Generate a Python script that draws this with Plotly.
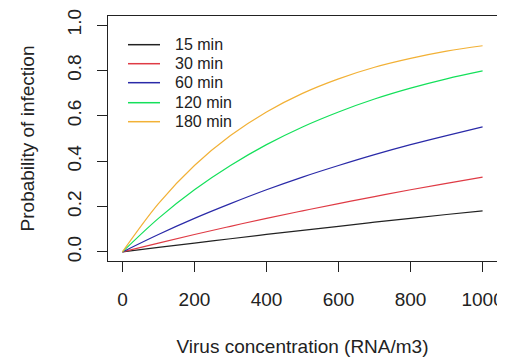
import plotly.graph_objects as go

concentration = [0, 100, 200, 300, 400, 500, 600, 700, 800, 900, 1000]
p15 = [0.0, 0.020, 0.039, 0.058, 0.077, 0.095, 0.113, 0.131, 0.148, 0.165, 0.181]
p30 = [0.0, 0.039, 0.077, 0.113, 0.148, 0.181, 0.213, 0.244, 0.274, 0.302, 0.330]
p60 = [0.0, 0.077, 0.148, 0.213, 0.274, 0.330, 0.381, 0.429, 0.473, 0.513, 0.551]
p120 = [0.0, 0.148, 0.274, 0.381, 0.473, 0.551, 0.617, 0.674, 0.722, 0.763, 0.798]
p180 = [0.0, 0.213, 0.381, 0.513, 0.617, 0.699, 0.763, 0.814, 0.853, 0.885, 0.909]

series_names = ["15 min", "30 min", "60 min", "120 min", "180 min"]
series_values = [p15, p30, p60, p120, p180]
colors = ["#222222", "#DF3B45", "#2A2AA8", "#14E05A", "#F2B136"]

x_ticks = [0, 200, 400, 600, 800, 1000]
y_ticks = [0.0, 0.2, 0.4, 0.6, 0.8, 1.0]
y_ticktext = ["0.0", "0.2", "0.4", "0.6", "0.8", "1.0"]

FONT = "Liberation Sans, Arial, sans-serif"
TXT = "#222222"

fig = go.Figure()
for name, vals, c in zip(series_names, series_values, colors):
    fig.add_trace(go.Scatter(x=concentration, y=vals, mode="lines", name=name,
                             line=dict(color=c, width=1.2, shape="spline"),
                             showlegend=False))

# manual legend (R style) in axis-domain coordinates
leg_x0, leg_x1, leg_tx = 20 / 389, 52 / 389, 65 / 389
leg_rows = [0.8829, 0.8053, 0.7278, 0.6461, 0.5686]
for name, c, yy in zip(series_names, colors, leg_rows):
    fig.add_shape(type="line", xref="x domain", yref="y domain",
                  x0=leg_x0, x1=leg_x1, y0=yy, y1=yy,
                  line=dict(color=c, width=1.5))
    fig.add_annotation(xref="x domain", yref="y domain", x=leg_tx, y=yy,
                       text=name, showarrow=False, xanchor="left", yanchor="middle",
                       font=dict(family=FONT, size=16, color=TXT))

# page body has an 8px margin, so the figure is 8px smaller and offset
fig.update_layout(
    width=497, height=353,
    margin=dict(l=100, r=8, t=8, b=100),
    paper_bgcolor="white", plot_bgcolor="white",
    font=dict(family=FONT, size=19, color=TXT),
    showlegend=False,
)
fig.update_xaxes(
    range=[-40, 1040], tickvals=x_ticks, ticktext=[str(v) for v in x_ticks],
    showgrid=False, zeroline=False,
    showline=True, linecolor="#222222", linewidth=1, mirror=True,
    ticks="outside", ticklen=10, tickwidth=1, tickcolor="#222222",
    ticklabelstandoff=11,
    tickfont=dict(family=FONT, size=19, color=TXT),
    title=dict(text="Virus concentration (RNA/m3)", standoff=30,
               font=dict(family=FONT, size=19, color=TXT)),
    automargin=False,
)
fig.update_yaxes(
    range=[-0.04, 1.04], tickvals=y_ticks, ticktext=y_ticktext,
    showgrid=False, zeroline=False,
    showline=True, linecolor="#222222", linewidth=1, mirror=True,
    ticks="outside", ticklen=10, tickwidth=1, tickcolor="#222222",
    tickangle=-90, ticklabelstandoff=8,
    tickfont=dict(family=FONT, size=19, color=TXT),
    title=dict(text="Probability of infection", standoff=24,
               font=dict(family=FONT, size=19, color=TXT)),
    automargin=False,
)

fig.write_html("out.html")
